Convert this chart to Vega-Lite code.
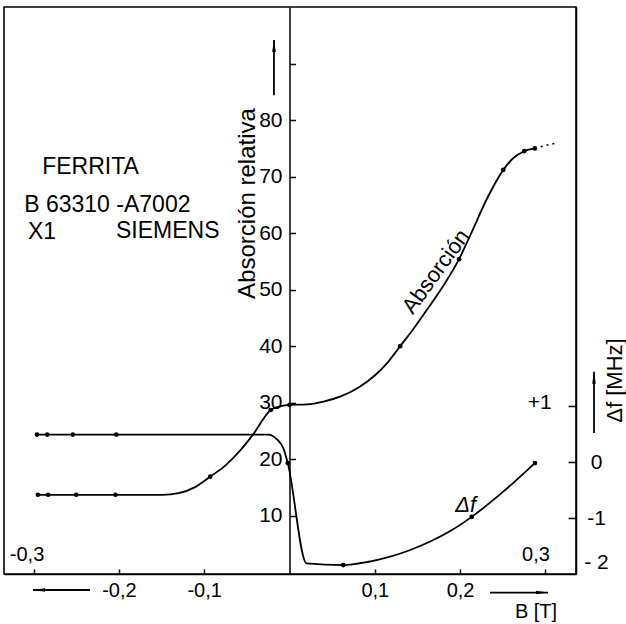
{
  "$schema": "https://vega.github.io/schema/vega-lite/v6.json",
  "width": 572,
  "height": 567,
  "autosize": {"type": "none"},
  "padding": {"left": 4, "top": 7, "right": 50, "bottom": 50},
  "background": "white",
  "config": {
    "font": "Liberation Sans",
    "view": {"stroke": "black", "strokeWidth": 1.6},
    "axis": {
      "labelColor": "black", "titleColor": "black", "domainColor": "black", "tickColor": "black",
      "domainWidth": 1.5, "tickWidth": 1.5, "grid": false,
      "labelFont": "Liberation Sans", "titleFont": "Liberation Sans", "titleFontWeight": "normal",
      "labelOverlap": false, "labelBound": false, "labelFlush": false
    },
    "text": {"color": "black", "font": "Liberation Sans"}
  },
  "datasets": {
    "absorcion": [
      {"B": -0.295, "A": 13.7, "dot": 1},
      {"B": -0.283, "A": 13.7, "dot": 1},
      {"B": -0.250, "A": 13.7, "dot": 1},
      {"B": -0.204, "A": 13.7, "dot": 1},
      {"B": -0.149, "A": 13.7, "dot": 0},
      {"B": -0.130, "A": 14.0, "dot": 0},
      {"B": -0.110, "A": 15.1, "dot": 0},
      {"B": -0.093, "A": 16.9, "dot": 1},
      {"B": -0.075, "A": 18.9, "dot": 0},
      {"B": -0.058, "A": 21.5, "dot": 0},
      {"B": -0.043, "A": 24.3, "dot": 0},
      {"B": -0.022, "A": 28.7, "dot": 1},
      {"B": -0.011, "A": 29.35, "dot": 0},
      {"B": 0.0, "A": 29.6, "dot": 1},
      {"B": 0.0207, "A": 29.7, "dot": 0},
      {"B": 0.040, "A": 30.2, "dot": 0},
      {"B": 0.060, "A": 31.1, "dot": 0},
      {"B": 0.080, "A": 32.6, "dot": 0},
      {"B": 0.100, "A": 34.8, "dot": 0},
      {"B": 0.115, "A": 37.1, "dot": 0},
      {"B": 0.1298, "A": 40.0, "dot": 1},
      {"B": 0.145, "A": 43.0, "dot": 0},
      {"B": 0.160, "A": 46.2, "dot": 0},
      {"B": 0.180, "A": 50.6, "dot": 0},
      {"B": 0.1988, "A": 55.4, "dot": 1},
      {"B": 0.2137, "A": 60.2, "dot": 0},
      {"B": 0.2312, "A": 66.0, "dot": 0},
      {"B": 0.2507, "A": 71.2, "dot": 1},
      {"B": 0.2625, "A": 73.3, "dot": 0},
      {"B": 0.2752, "A": 74.5, "dot": 1},
      {"B": 0.2877, "A": 75.0, "dot": 1}
    ],
    "absDash": [
      {"B": 0.2877, "A": 75.0},
      {"B": 0.300, "A": 75.5},
      {"B": 0.315, "A": 76.0}
    ],
    "df": [
      {"B": -0.296, "df": 0.49, "dot": 1},
      {"B": -0.284, "df": 0.49, "dot": 1},
      {"B": -0.254, "df": 0.49, "dot": 1},
      {"B": -0.203, "df": 0.49, "dot": 1},
      {"B": -0.025, "df": 0.49, "dot": 0},
      {"B": -0.015, "df": 0.41, "dot": 0},
      {"B": -0.007, "df": 0.24, "dot": 0},
      {"B": -0.002, "df": -0.02, "dot": 1},
      {"B": 0.020, "df": -1.81, "dot": 0},
      {"B": 0.063, "df": -1.84, "dot": 1},
      {"B": 0.090, "df": -1.79, "dot": 0},
      {"B": 0.118, "df": -1.69, "dot": 0},
      {"B": 0.140, "df": -1.58, "dot": 0},
      {"B": 0.165, "df": -1.42, "dot": 0},
      {"B": 0.190, "df": -1.22, "dot": 0},
      {"B": 0.2136, "df": -0.98, "dot": 1},
      {"B": 0.2506, "df": -0.53, "dot": 0},
      {"B": 0.2878, "df": -0.02, "dot": 1}
    ],
    "notes": [
      {"B": -0.290, "A": 71.7, "text": "FERRITA"},
      {"B": -0.311, "A": 65.0, "text": "B 63310 -A7002"},
      {"B": -0.3066, "A": 60.2, "text": "X1"},
      {"B": -0.2034, "A": 60.3, "text": "SIEMENS"}
    ],
    "corners": [
      {"B": -0.3077, "A": 3.0, "text": "-0,3"},
      {"B": 0.289, "A": 3.0, "text": "0,3"}
    ],
    "curveA": [
      {"B": 0.1716, "A": 53.2, "text": "Absorción"}
    ],
    "arrowsA": [
      {"B": -0.0182, "A": 94.2, "B2": -0.0182, "A2": 84.4, "dir": "up"},
      {"B": -0.3007, "A": -3.15, "B2": -0.2339, "A2": -3.15, "dir": "left"},
      {"B": 0.303, "A": -3.6, "B2": 0.235, "A2": -3.6, "dir": "right"}
    ],
    "arrowsDf": [
      {"B": 0.357, "df": 1.61, "B2": 0.357, "df2": 0.52, "dir": "up"}
    ],
    "dfText": [
      {"B": 0.3074, "df": 1.05, "text": "+1"}
    ],
    "dfCurve": [
      {"B": 0.2066, "df": -0.77, "text": "Δf"}
    ]
  },
  "encoding": {
    "x": {
      "field": "B", "type": "quantitative",
      "scale": {"domain": [-0.3347, 0.3359], "nice": false, "zero": false},
      "axis": {
        "values": [-0.3, -0.2, -0.1, 0.1, 0.2, 0.3],
        "labelExpr": "abs(datum.value) > 0.25 ? '' : replace(replace(format(datum.value, '.1f'), '.', ','), '\u2212', '-')",
        "tickSize": -5, "labelPadding": 11, "labelFontSize": 20,
        "title": "B [T]", "titleFontSize": 20, "titleX": 531.5, "titleY": 37,
        "titleAlign": "center", "titleBaseline": "middle"
      }
    }
  },
  "resolve": {"scale": {"y": "independent"}},
  "layer": [
    {
      "encoding": {
        "y": {
          "field": "A", "type": "quantitative",
          "scale": {"domain": [-0.32, 100.02], "nice": false, "zero": false},
          "axis": {
            "orient": "left", "offset": -285.5,
            "values": [10, 20, 30, 40, 50, 60, 70, 80, 90],
            "labelExpr": "datum.value == 90 ? '' : datum.label",
            "tickSize": -6, "labelPadding": 13.5, "labelFontSize": 21,
            "title": "Absorción relativa", "titleFontSize": 24, "titleAngle": 270,
            "titleX": -35.5, "titleY": 196, "titleAlign": "center", "titleBaseline": "alphabetic"
          }
        }
      },
      "layer": [
        {
          "data": {"name": "absorcion"},
          "mark": {"type": "line", "interpolate": "monotone", "color": "black", "strokeWidth": 1.8}
        },
        {
          "data": {"name": "absDash"},
          "mark": {"type": "line", "interpolate": "monotone", "color": "black", "strokeWidth": 1.5, "strokeDash": [2, 4]}
        },
        {
          "data": {"name": "absorcion"},
          "transform": [{"filter": "datum.dot == 1"}],
          "mark": {"type": "point", "filled": true, "color": "black", "size": 22, "opacity": 1}
        },
        {
          "data": {"name": "arrowsA"},
          "mark": {"type": "rule", "color": "black", "strokeWidth": 1.8},
          "encoding": {"x2": {"field": "B2"}, "y2": {"field": "A2"}}
        },
        {
          "data": {"name": "arrowsA"},
          "mark": {"type": "point", "filled": true, "color": "black", "size": 144, "opacity": 1},
          "encoding": {
            "shape": {
              "field": "dir", "type": "nominal", "legend": null,
              "scale": {"domain": ["up", "left", "right"], "range": ["M0,0L0.3,2L-0.3,2Z", "M0,0L2,-0.3L2,0.3Z", "M0,0L-2,-0.3L-2,0.3Z"]}
            }
          }
        },
        {
          "data": {"name": "notes"},
          "mark": {"type": "text", "align": "left", "baseline": "middle", "fontSize": 23},
          "encoding": {"text": {"field": "text"}}
        },
        {
          "data": {"name": "corners"},
          "mark": {"type": "text", "align": "center", "baseline": "middle", "fontSize": 20},
          "encoding": {"text": {"field": "text"}}
        },
        {
          "data": {"name": "curveA"},
          "mark": {"type": "text", "align": "center", "baseline": "middle", "fontSize": 22, "angle": -54},
          "encoding": {"text": {"field": "text"}}
        }
      ]
    },
    {
      "encoding": {
        "y": {
          "field": "df", "type": "quantitative",
          "scale": {"domain": [-2, 8.125], "nice": false, "zero": false},
          "axis": {
            "orient": "right",
            "values": [-2, -1, 0, 1],
            "labelExpr": "datum.value == 1 ? '' : datum.value == -2 ? '- 2' : replace(datum.label, '\u2212', '-')",
            "tickSize": -8, "labelPadding": 28, "labelAlign": "center", "labelFontSize": 21,
            "tickOpacity": {"condition": {"test": "datum.value == -2", "value": 0}, "value": 1},
            "labelOffset": {"condition": {"test": "datum.value == -2", "value": -12}, "value": 0},
            "title": "Δf [MHz]", "titleFontSize": 22, "titleAngle": 270,
            "titleX": 38, "titleY": 373, "titleAlign": "center", "titleBaseline": "middle"
          }
        }
      },
      "layer": [
        {
          "data": {"name": "df"},
          "mark": {"type": "line", "interpolate": "monotone", "color": "black", "strokeWidth": 1.8}
        },
        {
          "data": {"name": "df"},
          "transform": [{"filter": "datum.dot == 1"}],
          "mark": {"type": "point", "filled": true, "color": "black", "size": 22, "opacity": 1}
        },
        {
          "data": {"name": "arrowsDf"},
          "mark": {"type": "rule", "color": "black", "strokeWidth": 1.8},
          "encoding": {"x2": {"field": "B2"}, "y2": {"field": "df2"}}
        },
        {
          "data": {"name": "arrowsDf"},
          "mark": {"type": "point", "filled": true, "color": "black", "size": 144, "opacity": 1},
          "encoding": {
            "shape": {
              "field": "dir", "type": "nominal", "legend": null,
              "scale": {"domain": ["up", "left", "right"], "range": ["M0,0L0.3,2L-0.3,2Z", "M0,0L2,-0.3L2,0.3Z", "M0,0L-2,-0.3L-2,0.3Z"]}
            }
          }
        },
        {
          "data": {"name": "dfText"},
          "mark": {"type": "text", "align": "right", "baseline": "middle", "fontSize": 21},
          "encoding": {"text": {"field": "text"}}
        },
        {
          "data": {"name": "dfCurve"},
          "mark": {"type": "text", "align": "center", "baseline": "middle", "fontSize": 22, "fontStyle": "italic"},
          "encoding": {"text": {"field": "text"}}
        }
      ]
    }
  ]
}
